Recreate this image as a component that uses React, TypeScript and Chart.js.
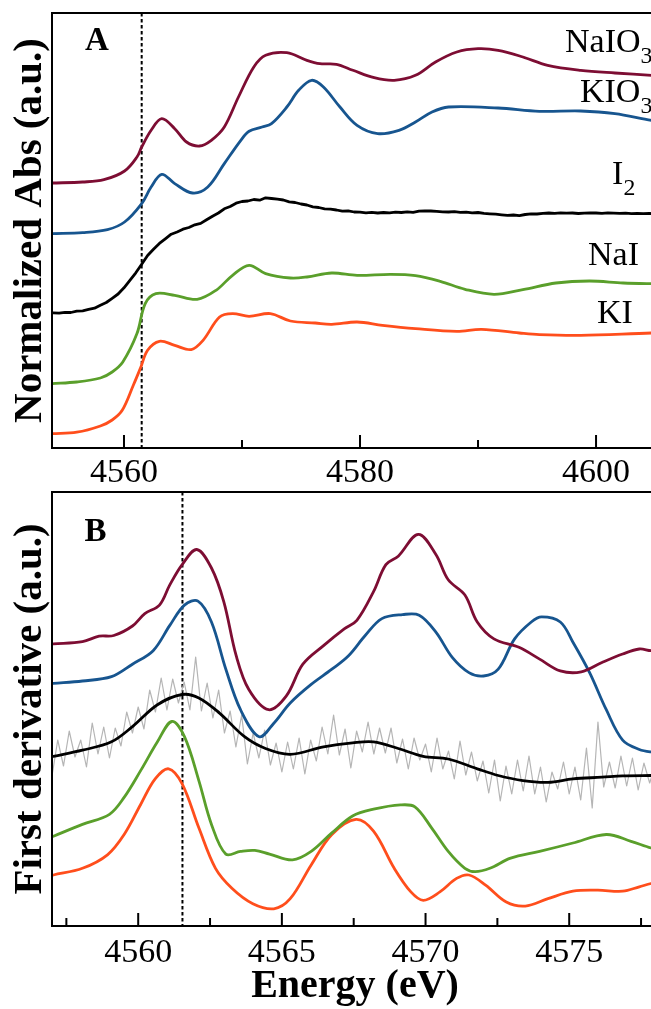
import React, { useEffect, useRef } from 'react';
import { Chart, registerables } from 'chart.js';

Chart.register(...registerables);

const SERIF = "'Liberation Serif', 'Times New Roman', Times, serif";

// ---------- Panel A : normalized absorbance (offset a.u.) ----------
const A_X_TICKS = [4560, 4580, 4600];
const A_X_MINOR = [4570, 4590];
const A_DASH = 4561.5;

const A_NAIO3_E = [4553.9, 4556.5, 4558.3, 4560.05, 4561.1, 4561.5, 4562.3, 4563.2, 4564.3, 4565.3, 4566.4, 4567.4, 4568.5, 4569.7, 4571.0, 4572.0, 4573.8, 4575.5, 4576.6, 4578.0, 4579.4, 4581.2, 4582.9, 4584.7, 4586.4, 4588.2, 4590.0, 4591.7, 4593.8, 4595.9, 4598.7, 4601.6, 4604.7, 4606.0];
const A_NAIO3_Y = [2.650, 2.660, 2.683, 2.770, 2.910, 3.010, 3.177, 3.293, 3.193, 3.060, 3.020, 3.077, 3.210, 3.510, 3.810, 3.927, 3.953, 3.877, 3.843, 3.837, 3.777, 3.703, 3.677, 3.727, 3.860, 3.960, 3.993, 3.977, 3.910, 3.827, 3.777, 3.750, 3.727, 3.720];

const A_KIO3_E = [4553.9, 4556.5, 4558.6, 4560.05, 4561.5, 4562.3, 4563.2, 4564.3, 4565.8, 4567.1, 4568.5, 4569.9, 4570.6, 4571.7, 4572.5, 4573.8, 4574.8, 4575.9, 4576.9, 4578.3, 4579.75, 4581.5, 4583.3, 4584.7, 4586.1, 4587.5, 4591.7, 4595.2, 4598.7, 4601.6, 4604.7, 4606.0];
const A_KIO3_Y = [2.144, 2.154, 2.184, 2.260, 2.444, 2.610, 2.737, 2.644, 2.550, 2.610, 2.844, 3.077, 3.167, 3.210, 3.244, 3.410, 3.577, 3.677, 3.610, 3.410, 3.227, 3.144, 3.177, 3.260, 3.360, 3.410, 3.400, 3.367, 3.370, 3.344, 3.277, 3.260];

const A_I2_E = [4554.0, 4554.5, 4555.0, 4555.5, 4556.0, 4556.5, 4557.0, 4557.5, 4558.0, 4558.5, 4559.0, 4559.5, 4560.0, 4560.5, 4561.0, 4561.5, 4562.0, 4562.5, 4563.0, 4563.5, 4564.0, 4564.5, 4565.0, 4565.5, 4566.0, 4566.5, 4567.0, 4567.5, 4568.0, 4568.5, 4569.0, 4569.5, 4570.0, 4570.5, 4571.0, 4571.5, 4572.0, 4572.5, 4573.0, 4573.5, 4574.0, 4574.5, 4575.0, 4575.5, 4576.0, 4576.5, 4577.0, 4577.5, 4578.0, 4578.5, 4579.0, 4579.5, 4580.0, 4580.5, 4581.0, 4581.5, 4582.0, 4582.5, 4583.0, 4583.5, 4584.0, 4584.5, 4585.0, 4585.5, 4586.0, 4586.5, 4587.0, 4587.5, 4588.0, 4588.5, 4589.0, 4589.5, 4590.0, 4590.5, 4591.0, 4591.5, 4592.0, 4592.5, 4593.0, 4593.5, 4594.0, 4594.5, 4595.0, 4595.5, 4596.0, 4596.5, 4597.0, 4597.5, 4598.0, 4598.5, 4599.0, 4599.5, 4600.0, 4600.5, 4601.0, 4601.5, 4602.0, 4602.5, 4603.0, 4603.5, 4604.0, 4604.5, 4605.0, 4605.5];
const A_I2_Y = [1.352, 1.348, 1.356, 1.355, 1.368, 1.372, 1.386, 1.398, 1.428, 1.455, 1.497, 1.540, 1.602, 1.676, 1.752, 1.838, 1.925, 1.988, 2.046, 2.092, 2.138, 2.160, 2.188, 2.205, 2.232, 2.246, 2.282, 2.318, 2.350, 2.392, 2.415, 2.448, 2.465, 2.470, 2.485, 2.478, 2.502, 2.495, 2.488, 2.480, 2.462, 2.455, 2.440, 2.430, 2.412, 2.405, 2.392, 2.388, 2.380, 2.368, 2.372, 2.360, 2.358, 2.352, 2.356, 2.350, 2.355, 2.352, 2.358, 2.355, 2.362, 2.356, 2.368, 2.372, 2.370, 2.366, 2.362, 2.360, 2.364, 2.356, 2.358, 2.352, 2.355, 2.346, 2.342, 2.338, 2.332, 2.326, 2.330, 2.324, 2.335, 2.342, 2.340, 2.346, 2.350, 2.347, 2.352, 2.348, 2.350, 2.345, 2.349, 2.352, 2.350, 2.347, 2.352, 2.349, 2.346, 2.348, 2.344, 2.346, 2.343, 2.345, 2.344, 2.343];

const A_NAI_E = [4553.9, 4556.0, 4558.0, 4559.0, 4559.9, 4561.1, 4561.8, 4562.7, 4564.3, 4566.2, 4567.8, 4569.2, 4570.6, 4572.0, 4574.1, 4575.5, 4577.6, 4579.75, 4582.6, 4584.7, 4586.8, 4588.9, 4591.35, 4593.8, 4596.6, 4599.45, 4602.3, 4604.7, 4606.0];
const A_NAI_Y = [0.644, 0.660, 0.700, 0.760, 0.860, 1.144, 1.444, 1.544, 1.527, 1.487, 1.577, 1.727, 1.827, 1.744, 1.700, 1.710, 1.750, 1.727, 1.737, 1.724, 1.667, 1.587, 1.537, 1.584, 1.650, 1.670, 1.650, 1.644, 1.644];

const A_KI_E = [4553.9, 4556.0, 4558.0, 4559.0, 4559.85, 4560.8, 4561.4, 4562.0, 4563.0, 4564.3, 4565.7, 4566.7, 4568.1, 4569.2, 4570.6, 4572.4, 4574.1, 4576.2, 4577.6, 4579.75, 4581.9, 4584.7, 4588.2, 4590.3, 4593.5, 4595.2, 4598.7, 4604.7, 4606.0];
const A_KI_Y = [0.144, 0.158, 0.220, 0.280, 0.377, 0.630, 0.800, 0.977, 1.067, 1.027, 0.984, 1.077, 1.310, 1.344, 1.317, 1.344, 1.270, 1.250, 1.237, 1.260, 1.227, 1.194, 1.167, 1.187, 1.150, 1.134, 1.127, 1.150, 1.150];

// ---------- Panel B : first derivative (offset a.u.) ----------
const B_X_TICKS = [4560, 4565, 4570, 4575];
const B_X_MINOR = [4557.5, 4562.5, 4567.5, 4572.5, 4577.5];
const B_DASH = 4561.54;

const B_NAIO3_E = [4557.05, 4558.06, 4558.64, 4559.15, 4559.80, 4560.23, 4560.74, 4561.10, 4561.53, 4562.04, 4562.55, 4562.98, 4563.41, 4563.85, 4564.54, 4565.15, 4565.73, 4566.45, 4567.17, 4567.61, 4568.19, 4568.62, 4569.05, 4569.75, 4570.36, 4570.79, 4571.37, 4571.80, 4572.38, 4573.25, 4573.97, 4574.69, 4575.42, 4576.14, 4576.86, 4577.44, 4577.85, 4578.2];
const B_NAIO3_Y = [2.821, 2.844, 2.898, 2.905, 3.000, 3.124, 3.209, 3.411, 3.614, 3.765, 3.580, 3.242, 2.703, 2.365, 2.163, 2.298, 2.618, 2.804, 2.972, 3.057, 3.344, 3.614, 3.698, 3.917, 3.715, 3.462, 3.310, 3.040, 2.871, 2.787, 2.669, 2.551, 2.541, 2.635, 2.720, 2.770, 2.753, 2.760];

const B_KIO3_E = [4557.05, 4558.06, 4559.07, 4559.80, 4560.52, 4561.10, 4561.61, 4562.08, 4562.55, 4563.05, 4563.56, 4564.21, 4564.72, 4565.29, 4566.02, 4566.74, 4567.32, 4567.90, 4568.48, 4569.20, 4569.78, 4570.36, 4570.93, 4571.51, 4572.02, 4572.53, 4573.10, 4573.68, 4574.04, 4574.69, 4575.13, 4575.71, 4576.29, 4576.86, 4577.44, 4577.85, 4578.2];
const B_KIO3_Y = [2.426, 2.450, 2.493, 2.618, 2.753, 3.006, 3.209, 3.249, 3.040, 2.568, 2.163, 1.893, 2.028, 2.230, 2.416, 2.568, 2.703, 2.905, 3.074, 3.114, 3.108, 2.939, 2.686, 2.534, 2.500, 2.568, 2.871, 3.040, 3.091, 3.040, 2.838, 2.534, 2.163, 1.859, 1.765, 1.741, 1.740];

const B_I2_E = [4557.05, 4558.06, 4559.07, 4559.80, 4560.67, 4561.53, 4562.11, 4562.83, 4563.70, 4564.43, 4565.29, 4566.45, 4567.46, 4568.19, 4569.05, 4569.92, 4570.79, 4571.80, 4572.53, 4573.39, 4574.26, 4575.13, 4576.14, 4576.86, 4577.85, 4578.2];
const B_I2_Y = [1.697, 1.758, 1.842, 1.994, 2.213, 2.315, 2.281, 2.129, 1.893, 1.775, 1.717, 1.792, 1.832, 1.842, 1.775, 1.697, 1.670, 1.572, 1.505, 1.454, 1.437, 1.471, 1.488, 1.502, 1.505, 1.505];

const B_I2_RAW_E = [4557.0, 4557.2, 4557.4, 4557.6, 4557.8, 4558.0, 4558.2, 4558.4, 4558.6, 4558.8, 4559.0, 4559.2, 4559.4, 4559.6, 4559.8, 4560.0, 4560.2, 4560.4, 4560.6, 4560.8, 4561.0, 4561.2, 4561.4, 4561.6, 4561.8, 4562.0, 4562.2, 4562.4, 4562.6, 4562.8, 4563.0, 4563.2, 4563.4, 4563.6, 4563.8, 4564.0, 4564.2, 4564.4, 4564.6, 4564.8, 4565.0, 4565.2, 4565.4, 4565.6, 4565.8, 4566.0, 4566.2, 4566.4, 4566.6, 4566.8, 4567.0, 4567.2, 4567.4, 4567.6, 4567.8, 4568.0, 4568.2, 4568.4, 4568.6, 4568.8, 4569.0, 4569.2, 4569.4, 4569.6, 4569.8, 4570.0, 4570.2, 4570.4, 4570.6, 4570.8, 4571.0, 4571.2, 4571.4, 4571.6, 4571.8, 4572.0, 4572.2, 4572.4, 4572.6, 4572.8, 4573.0, 4573.2, 4573.4, 4573.6, 4573.8, 4574.0, 4574.2, 4574.4, 4574.6, 4574.8, 4575.0, 4575.2, 4575.4, 4575.6, 4575.8, 4576.0, 4576.2, 4576.4, 4576.6, 4576.8, 4577.0, 4577.2, 4577.4, 4577.6, 4577.8, 4578.0];
const B_I2_RAW_Y = [1.50, 1.86, 1.60, 1.95, 1.69, 1.86, 1.59, 2.03, 1.72, 1.99, 1.68, 1.98, 1.80, 2.14, 1.93, 2.19, 1.97, 2.36, 2.14, 2.48, 2.16, 2.47, 2.23, 2.44, 2.16, 2.69, 2.15, 2.43, 2.08, 2.36, 1.93, 2.15, 1.79, 2.11, 1.62, 1.93, 1.68, 1.96, 1.61, 1.83, 1.54, 1.84, 1.57, 1.88, 1.52, 1.86, 1.65, 1.99, 1.72, 2.11, 1.71, 1.97, 1.58, 1.95, 1.74, 2.04, 1.72, 1.98, 1.73, 1.98, 1.63, 1.87, 1.57, 1.88, 1.66, 1.82, 1.54, 1.88, 1.57, 1.75, 1.47, 1.85, 1.51, 1.74, 1.45, 1.65, 1.33, 1.66, 1.25, 1.60, 1.32, 1.66, 1.35, 1.70, 1.32, 1.59, 1.24, 1.54, 1.37, 1.64, 1.32, 1.59, 1.26, 1.78, 1.18, 2.04, 1.39, 1.64, 1.38, 1.70, 1.40, 1.68, 1.36, 1.63, 1.43, 1.61];

const B_NAI_E = [4557.05, 4558.06, 4559.00, 4559.51, 4560.09, 4560.67, 4561.17, 4561.61, 4562.11, 4562.55, 4563.05, 4563.56, 4564.06, 4564.57, 4565.37, 4566.02, 4566.74, 4567.46, 4568.19, 4569.13, 4569.63, 4570.21, 4570.79, 4571.37, 4571.73, 4572.24, 4572.96, 4573.97, 4575.13, 4576.29, 4577.15, 4577.85, 4578.2];
const B_NAI_Y = [0.898, 1.016, 1.117, 1.286, 1.556, 1.842, 2.045, 1.893, 1.454, 1.016, 0.719, 0.746, 0.756, 0.719, 0.661, 0.746, 0.931, 1.100, 1.168, 1.211, 1.191, 0.982, 0.746, 0.577, 0.543, 0.577, 0.678, 0.746, 0.830, 0.915, 0.847, 0.780, 0.760];

const B_KI_E = [4557.05, 4558.06, 4558.93, 4559.51, 4560.09, 4560.59, 4561.06, 4561.53, 4562.11, 4562.69, 4563.27, 4563.99, 4564.72, 4565.29, 4566.02, 4566.74, 4567.58, 4568.19, 4568.91, 4569.49, 4569.92, 4570.50, 4571.08, 4571.51, 4572.09, 4572.81, 4573.47, 4574.26, 4575.13, 4576.00, 4576.86, 4577.44, 4577.85, 4578.2];
const B_KI_Y = [0.510, 0.577, 0.712, 0.915, 1.218, 1.471, 1.572, 1.421, 0.982, 0.577, 0.375, 0.223, 0.172, 0.273, 0.611, 0.915, 1.066, 0.948, 0.577, 0.341, 0.257, 0.341, 0.476, 0.510, 0.409, 0.240, 0.199, 0.273, 0.348, 0.358, 0.348, 0.392, 0.425, 0.440];

const C_NAIO3 = '#7d0d33';
const C_KIO3 = '#17558f';
const C_I2 = '#000000';
const C_NAI = '#5a9f2b';
const C_KI = '#ff4e1c';
const C_RAW = '#b5b5b5';

type Part = { t: string; sub?: boolean };
type Lbl = { x: number; y: number; size: number; bold?: boolean; parts: Part[] };

function zip(xs: number[], ys: number[]) {
  const n = Math.min(xs.length, ys.length);
  const out: { x: number; y: number }[] = [];
  for (let i = 0; i < n; i++) out.push({ x: xs[i], y: ys[i] });
  return out;
}

function line(xs: number[], ys: number[], color: string, width = 2.8, tension = 0.35) {
  return {
    data: zip(xs, ys),
    borderColor: color,
    backgroundColor: color,
    borderWidth: width,
    pointRadius: 0,
    fill: false,
    tension,
    borderJoinStyle: 'round',
    borderCapStyle: 'round',
  };
}

function makeDecor(
  dashAt: number,
  major: number[],
  minor: number[],
  labels: Lbl[],
  tickBaseline: number
) {
  return {
    id: 'decor',
    beforeDatasetsDraw(chart: any) {
      const { ctx, chartArea: ca } = chart;
      const px = chart.scales.x.getPixelForValue(dashAt);
      ctx.save();
      ctx.strokeStyle = '#000';
      ctx.lineWidth = 2;
      ctx.setLineDash([3.5, 2.5]);
      ctx.beginPath();
      ctx.moveTo(px, ca.top);
      ctx.lineTo(px, ca.bottom);
      ctx.stroke();
      ctx.restore();
    },
    afterDatasetsDraw(chart: any) {
      const { ctx, chartArea: ca } = chart;
      const xs = chart.scales.x;
      const ys = chart.scales.y;
      ctx.save();
      ctx.strokeStyle = '#000';
      ctx.lineWidth = 2;
      ctx.setLineDash([]);
      ctx.strokeRect(ca.left, ca.top, ca.right - ca.left, ca.bottom - ca.top);
      ctx.beginPath();
      for (const v of major) {
        const p = xs.getPixelForValue(v);
        ctx.moveTo(p, ca.bottom);
        ctx.lineTo(p, ca.bottom - 13);
      }
      for (const v of minor) {
        const p = xs.getPixelForValue(v);
        ctx.moveTo(p, ca.bottom);
        ctx.lineTo(p, ca.bottom - 8);
      }
      ctx.stroke();
      ctx.fillStyle = '#000';
      // tick labels of the x scale
      ctx.font = `34px ${SERIF}`;
      ctx.textAlign = 'center';
      ctx.textBaseline = 'alphabetic';
      for (const t of xs.ticks) {
        const p = xs.getPixelForValue(t.value);
        ctx.fillText(String(t.value), p, ca.bottom + tickBaseline);
      }
      ctx.textAlign = 'left';
      for (const l of labels) {
        let x = xs.getPixelForValue(l.x);
        const y = ys.getPixelForValue(l.y);
        for (const p of l.parts) {
          const size = p.sub ? l.size * 0.7 : l.size;
          ctx.font = `${l.bold ? 'bold ' : ''}${size}px ${SERIF}`;
          ctx.fillText(p.t, x, p.sub ? y + l.size * 0.32 : y);
          x += ctx.measureText(p.t).width;
        }
      }
      ctx.restore();
    },
  };
}

function makeConfig(opts: {
  datasets: any[];
  xMin: number;
  xMax: number;
  yMax: number;
  ticks: number[];
  minor: number[];
  dash: number;
  labels: Lbl[];
  padTop: number;
  xHeight: number;
  tickBaseline: number;
  yTitle: string;
  xTitle?: string;
}) {
  return {
    type: 'line',
    data: { datasets: opts.datasets },
    options: {
      animation: false,
      responsive: false,
      maintainAspectRatio: false,
      devicePixelRatio: 1,
      layout: { padding: { top: opts.padTop, right: 42, left: 0, bottom: 0 } },
      plugins: { legend: { display: false }, tooltip: { enabled: false } },
      elements: { point: { radius: 0 } },
      scales: {
        x: {
          type: 'linear',
          min: opts.xMin,
          max: opts.xMax,
          grid: { display: false, drawTicks: false },
          border: { display: false },
          afterBuildTicks: (s: any) => {
            s.ticks = opts.ticks.map((v) => ({ value: v }));
          },
          afterFit: (s: any) => {
            s.height = opts.xHeight;
          },
          ticks: { display: false },
          title: opts.xTitle
            ? {
                display: true,
                text: opts.xTitle,
                color: '#000',
                font: { family: SERIF, size: 40, weight: 'bold', lineHeight: 1 },
                padding: { top: 0, bottom: 2 },
              }
            : { display: false },
        },
        y: {
          type: 'linear',
          min: 0,
          max: opts.yMax,
          grid: { display: false, drawTicks: false },
          border: { display: false },
          ticks: { display: false },
          afterFit: (s: any) => {
            s.width = 52;
          },
          title: {
            display: true,
            text: opts.yTitle,
            color: '#000',
            font: { family: SERIF, size: 41, weight: 'bold', lineHeight: 1 },
            padding: { top: 10, bottom: 0 },
          },
        },
      },
    },
    plugins: [makeDecor(opts.dash, opts.ticks, opts.minor, opts.labels, opts.tickBaseline)],
  };
}

export default function App() {
  const refA = useRef<HTMLCanvasElement>(null);
  const refB = useRef<HTMLCanvasElement>(null);

  useEffect(() => {
    const labelsA: Lbl[] = [
      { x: 4556.7, y: 3.977, size: 33, bold: true, parts: [{ t: 'A' }] },
      { x: 4597.37, y: 3.957, size: 34, parts: [{ t: 'NaIO' }, { t: '3', sub: true }] },
      { x: 4598.64, y: 3.46, size: 34, parts: [{ t: 'KIO' }, { t: '3', sub: true }] },
      { x: 4601.36, y: 2.637, size: 34, parts: [{ t: 'I' }, { t: '2', sub: true }] },
      { x: 4599.32, y: 1.827, size: 34, parts: [{ t: 'NaI' }] },
      { x: 4600.08, y: 1.247, size: 34, parts: [{ t: 'KI' }] },
    ];
    const labelsB: Lbl[] = [
      { x: 4558.13, y: 3.85, size: 33, bold: true, parts: [{ t: 'B' }] },
    ];

    const cfgA = makeConfig({
      datasets: [
        line(A_NAIO3_E, A_NAIO3_Y, C_NAIO3),
        line(A_KIO3_E, A_KIO3_Y, C_KIO3),
        line(A_I2_E, A_I2_Y, C_I2, 2.8, 0),
        line(A_NAI_E, A_NAI_Y, C_NAI),
        line(A_KI_E, A_KI_Y, C_KI),
      ],
      xMin: 4553.9,
      xMax: 4605.25,
      yMax: 4.35,
      ticks: A_X_TICKS,
      minor: A_X_MINOR,
      dash: A_DASH,
      labels: labelsA,
      padTop: 13,
      xHeight: 42,
      tickBaseline: 34,
      yTitle: 'Normalized Abs (a.u.)',
    });

    const cfgB = makeConfig({
      datasets: [
        line(B_NAIO3_E, B_NAIO3_Y, C_NAIO3),
        line(B_KIO3_E, B_KIO3_Y, C_KIO3),
        line(B_I2_E, B_I2_Y, C_I2),
        line(B_NAI_E, B_NAI_Y, C_NAI),
        line(B_KI_E, B_KI_Y, C_KI),
        line(B_I2_RAW_E, B_I2_RAW_Y, C_RAW, 1.2, 0),
      ],
      xMin: 4557.0,
      xMax: 4578.09,
      yMax: 4.34,
      ticks: B_X_TICKS,
      minor: B_X_MINOR,
      dash: B_DASH,
      labels: labelsB,
      padTop: 2,
      xHeight: 83,
      tickBaseline: 36,
      yTitle: 'First derivative (a.u.)',
      xTitle: 'Energy (eV)',
    });

    const a = new Chart(refA.current as HTMLCanvasElement, cfgA as any);
    const b = new Chart(refB.current as HTMLCanvasElement, cfgB as any);
    return () => {
      a.destroy();
      b.destroy();
    };
  }, []);

  return (
    <div
      style={{
        position: 'fixed',
        left: 0,
        top: 0,
        width: 651,
        height: 1009,
        overflow: 'hidden',
        background: '#ffffff',
      }}
    >
      <canvas
        ref={refA}
        width={700}
        height={490}
        style={{ position: 'absolute', left: 0, top: 0, width: 700, height: 490 }}
      />
      <canvas
        ref={refB}
        width={700}
        height={519}
        style={{ position: 'absolute', left: 0, top: 490, width: 700, height: 519 }}
      />
    </div>
  );
}
